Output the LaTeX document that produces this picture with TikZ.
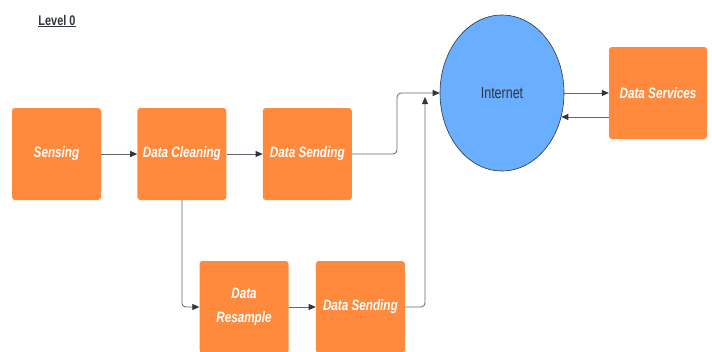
\documentclass[tikz,border=0pt]{standalone}
\usepackage{fontspec}
\setmainfont[FakeStretch=0.78]{Liberation Sans}
\usetikzlibrary{positioning,arrows.meta,shapes.geometric}

\definecolor{boxorange}{HTML}{FF8A3D}
\definecolor{netblue}{HTML}{6AAEFF}
\definecolor{linegray}{HTML}{5F6673}
\definecolor{tipdark}{HTML}{2F3540}

\tikzset{
  stage/.style={fill=boxorange, rounded corners=3pt, minimum width=89pt,
    minimum height=92pt, inner sep=2pt, text=white, align=center,
    font=\bfseries\itshape\fontsize{15}{18}\selectfont},
  flow/.style={draw=linegray, line width=0.8pt, rounded corners=4pt,
    -{Triangle[length=7pt,width=6pt,color=tipdark]}}
}

\begin{document}
\begin{tikzpicture}[x=1pt,y=-1pt]
  \useasboundingbox[fill=white] (0,0) rectangle (712,351);

  \node[font=\bfseries\fontsize{14}{16}\selectfont, text=tipdark] (title) at (57,21) {\underline{Level 0}};

  \node[stage] (sensing) at (56.5,154) {Sensing};
  \node[stage] (cleaning)[right=36pt of sensing] {Data Cleaning};
  \node[stage] (send)[right=36pt of cleaning] {Data Sending};
  \node[stage] (resample) at (244,307) {Data\\[6pt]Resample};
  \node[stage] (sendb)[right=27pt of resample] {Data Sending};
  \node[ellipse, draw=tipdark, line width=0.6pt, fill=netblue, minimum width=124pt,
    minimum height=156pt, text=tipdark, font=\fontsize{16}{18}\selectfont] (net) at (502,93) {Internet};
  \node[stage, minimum width=98pt] (services) at (658,93) {Data Services};

  \coordinate (merge) at (425,97);

  \path[flow] (sensing) edge (cleaning)
              (cleaning) edge (send)
              (resample) edge (sendb)
              (net) edge (services);
  \draw[flow] (send.east) -- ++(45,0) |- (net.west);
  \draw[flow] (cleaning.south) |- (resample.west);
  \draw[flow] (sendb.east) -| (merge);
  \draw[flow] (services.west |- net.-22) -- (net.-22);
\end{tikzpicture}
\end{document}
